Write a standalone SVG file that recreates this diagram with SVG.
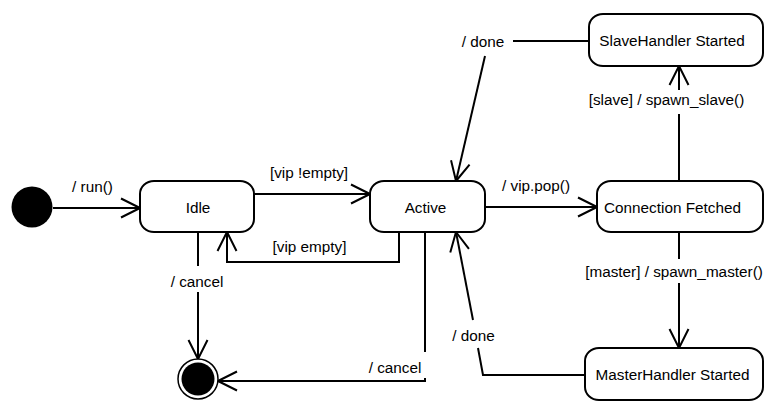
<svg xmlns="http://www.w3.org/2000/svg" width="764" height="403" viewBox="0 0 764 403">
  <defs>
    <style>
      text { font-family: "Liberation Sans", Arial, sans-serif; font-size: 15.3px; fill: #000; text-anchor: middle; }
      .state { fill: #fff; stroke: #000; stroke-width: 2; }
      .edge { fill: none; stroke: #000; stroke-width: 2; }
      .head { marker-end: url(#open-arrow); }
    </style>
    <marker id="open-arrow" viewBox="-22 -12 24 24" refX="0" refY="0" markerWidth="24" markerHeight="24" markerUnits="userSpaceOnUse" orient="auto">
      <path d="M-19,-9.5 L0,0 L-19,9.5" fill="none" stroke="#000" stroke-width="2" stroke-linejoin="round"/>
    </marker>
  </defs>

  <rect width="764" height="403" fill="#fff"/>

  <!-- transitions -->
  <g id="connectors">
    <path class="edge head" d="M53,208 H140"/>
    <path class="edge head" d="M254,194 H370"/>
    <path class="edge head" d="M399,232 V262 H227 V232"/>
    <path class="edge" d="M198,232 V266"/>
    <path class="edge head" d="M198,292 V359"/>
    <path class="edge" d="M425,232 V352"/>
    <path class="edge head" d="M425,378 V381 H218"/>
    <path class="edge head" d="M485,207 H597"/>
    <path class="edge" d="M679,181 V114"/>
    <path class="edge head" d="M679,90 V66"/>
    <path class="edge" d="M679,232 V259"/>
    <path class="edge head" d="M679,283 V348"/>
    <path class="edge" d="M589,41 H513"/>
    <path class="edge head" d="M485,56 L456,181"/>
    <path class="edge" d="M585,375 H483 L478,348"/>
    <path class="edge head" d="M473,320 L456,232"/>

    <text x="92.5" y="192">/ run()</text>
    <text x="309" y="178">[vip !empty]</text>
    <text x="309.5" y="252">[vip empty]</text>
    <text x="536" y="191">/ vip.pop()</text>
    <text x="483" y="47">/ done</text>
    <text x="666.5" y="105">[slave] / spawn_slave()</text>
    <text x="674" y="277">[master] / spawn_master()</text>
    <text x="473.5" y="341">/ done</text>
    <text x="197" y="287">/ cancel</text>
    <text x="395" y="373">/ cancel</text>
  </g>

  <!-- states -->
  <g id="initial">
    <circle cx="32" cy="207" r="20.5" fill="#000"/>
  </g>
  <g id="idle">
    <rect class="state" x="140" y="181" width="114" height="51" rx="14" ry="13"/>
    <text x="198" y="213">Idle</text>
  </g>
  <g id="active">
    <rect class="state" x="370" y="181" width="115" height="51" rx="14" ry="13"/>
    <text x="425.5" y="213">Active</text>
  </g>
  <g id="connection-fetched">
    <rect class="state" x="597" y="181" width="166" height="51" rx="14" ry="13"/>
    <text x="672.5" y="213">Connection Fetched</text>
  </g>
  <g id="slave-started">
    <rect class="state" x="589" y="14" width="174" height="52" rx="14" ry="13"/>
    <text x="672" y="46">SlaveHandler Started</text>
  </g>
  <g id="master-started">
    <rect class="state" x="585" y="348" width="178" height="52" rx="14" ry="13"/>
    <text x="672.5" y="380">MasterHandler Started</text>
  </g>
  <g id="final">
    <circle cx="198" cy="379" r="20" fill="#fff" stroke="#000" stroke-width="1.5"/>
    <circle cx="198" cy="379" r="16.5" fill="#000"/>
  </g>
</svg>
